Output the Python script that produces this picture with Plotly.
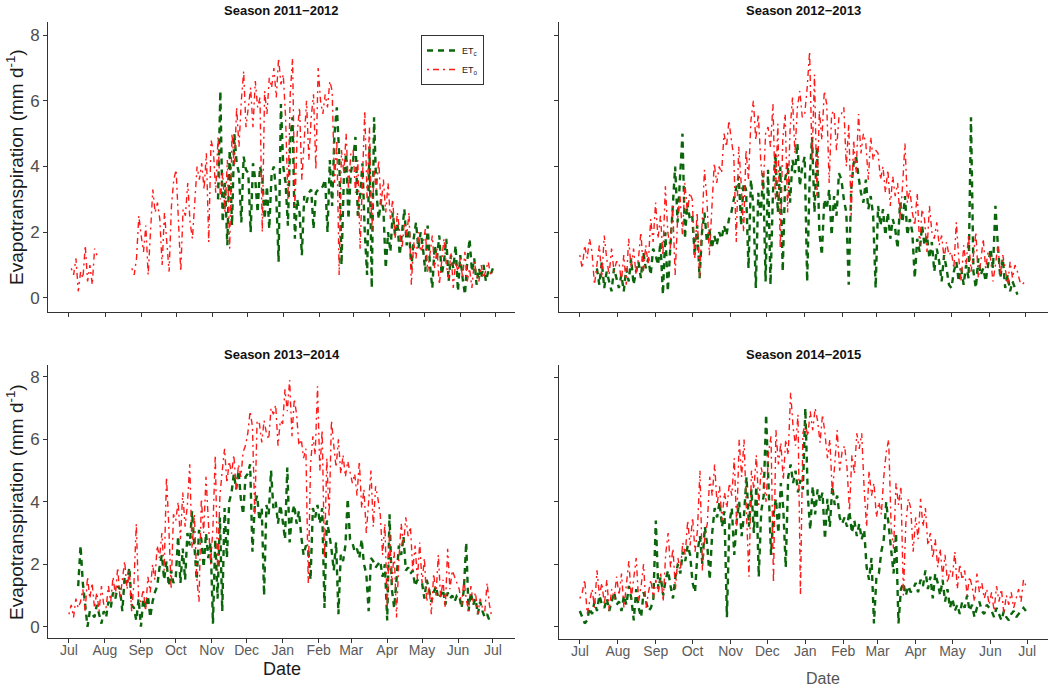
import pandas as pd
import plotly.graph_objects as go

W, H = 1058, 688

# ---------------- data (2-day samples, Jul -> Jun) ----------------
season_labels = ["Season 2011\u22122012", "Season 2012\u22122013",
                 "Season 2013\u22122014", "Season 2014\u22122015"]
season_starts = ["2011-07-01", "2012-07-01", "2013-07-01", "2014-07-01"]

eto_1112 = ([None, 0.9, 0.7, 1.2, 0.2, 0.8, 0.6, 1.6, 0.5, 1.0, 0.4, 1.5, 1.3, None, None, None]
            + [None, None, None, None, None, None, None, None, None, None, None, 0.9, 0.7, 1.2, 2.5]
            + [1.9, 1.4, 2.2, 0.7, 2.0, 3.3, 2.6, 2.9, 2.4, 1.0, 2.6, 1.7, 0.8, 2.8, 3.6]
            + [3.9, 2.2, 0.8, 2.7, 2.5, 3.5, 2.3, 1.8, 3.0, 4.0, 3.6, 4.1, 3.3, 4.4, 1.7, 4.8]
            + [4.5, 3.2, 4.9, 3.0, 3.8, 2.6, 4.2, 1.5, 5.0, 4.0, 5.8, 4.6, 6.0, 6.9, 5.2]
            + [5.9, 6.4, 5.2, 6.6, 5.8, 6.1, 2.0, 6.3, 5.6, 6.7, 6.4, 7.0, 6.1, 7.3, 6.5]
            + [6.8, 5.5, 3.0, 6.2, 7.3, 2.8, 5.0, 5.8, 3.6, 4.8, 6.0, 4.2, 5.5, 6.2, 3.9, 7.0]
            + [6.0, 5.6, 6.2, 5.8, 6.6, 6.3, 3.5, 4.8, 0.7, 4.5, 3.8, 5.0, 3.3, 4.4]
            + [4.5, 3.2, 4.2, 1.5, 3.8, 5.7, 3.0, 5.2, 2.0, 3.9, 3.3, 4.2, 2.8, 3.6, 2.6]
            + [3.5, 2.4, 3.0, 1.8, 2.6, 2.0, 1.5, 2.3, 1.9, 2.6, 0.4, 1.7, 1.2, 2.0, 1.4]
            + [1.6, 2.1, 0.8, 1.4, 1.9, 0.9, 1.5, 0.4, 1.2, 1.8, 1.0, 0.6, 1.4, 0.3, 1.1, 0.8]
            + [1.2, 0.6, 1.4, 0.5, 0.9, 0.3, 1.1, 0.7, 0.5, 1.0, 0.6, 0.9, 1.1, 0.7, 0.8])

etc_1112 = ([None] * 16 + [None] * 15 + [None] * 15 + [None] * 16
            + [None, None, 3.0, 6.3, 2.3, 3.5, 1.6, 4.5, 2.2, 5.0, 4.1, 3.8, 2.3, 4.3, 3.9]
            + [3.8, 2.0, 4.1, 3.6, 2.6, 4.0, 3.7, 2.4, 3.4, 2.1, 3.8, 4.0, 3.1, 1.1, 5.9]
            + [4.0, 3.5, 2.2, 4.8, 5.5, 1.8, 3.0, 2.6, 1.3, 3.1, 2.9, 3.2, 3.3, 2.1, 3.2, 3.3]
            + [3.3, 3.4, 3.6, 2.0, 4.2, 2.8, 5.0, 5.8, 4.4, 1.0, 3.6, 4.4, 2.4, 3.8]
            + [4.2, 4.9, 2.5, 3.1, 4.1, 2.0, 0.7, 4.6, 0.3, 5.5, 3.2, 2.4, 3.0, 2.7, 0.9]
            + [2.0, 1.4, 2.6, 1.9, 2.3, 1.3, 2.0, 2.7, 1.6, 2.1, 0.9, 1.8, 2.3, 1.5, 2.0]
            + [1.5, 0.8, 2.2, 1.0, 0.3, 1.6, 1.2, 1.9, 0.7, 1.1, 1.8, 0.5, 1.3, 0.9, 1.6, 0.2]
            + [1.3, 0.6, 0.1, 1.1, 1.8, 0.8, 1.2, 0.4, 0.9, 0.6, 1.0, 0.5, 0.8, 0.7, 0.9])

eto_1213 = ([1.3, 0.9, 1.6, 1.2, 1.8, 1.4, 0.4, 1.0, 1.6, 0.6, 1.9, 1.2, 0.7, 1.5, 0.8, 1.1]
            + [1.1, 0.5, 1.3, 0.4, 1.8, 0.9, 1.5, 0.7, 1.2, 2.0, 0.8, 1.6, 1.0, 2.4, 1.7]
            + [2.9, 1.8, 2.5, 1.3, 3.4, 2.0, 1.5, 2.8, 0.7, 2.4, 3.1, 1.9, 3.5, 2.6, 3.2]
            + [3.0, 1.2, 2.6, 0.6, 2.2, 3.9, 3.0, 1.3, 2.7, 4.1, 3.5, 4.0, 3.8, 5.0, 4.6, 5.4]
            + [4.8, 4.3, 1.7, 4.6, 3.5, 2.0, 4.5, 3.6, 5.4, 6.0, 4.8, 5.6, 4.2, 3.3, 5.0]
            + [5.2, 4.6, 5.9, 3.0, 5.3, 1.5, 4.8, 5.6, 2.6, 5.1, 6.1, 4.4, 5.8, 6.3, 5.5]
            + [5.6, 6.4, 7.5, 4.2, 6.8, 3.1, 5.7, 4.8, 6.3, 5.9, 3.5, 5.6, 5.7, 4.5, 5.5, 5.6]
            + [5.8, 4.0, 5.3, 2.5, 4.8, 3.8, 5.6, 4.4, 5.0, 4.7, 3.6, 4.9, 4.2, 4.5]
            + [4.4, 3.6, 4.0, 3.2, 3.9, 2.8, 3.7, 3.1, 3.5, 2.4, 3.4, 4.7, 2.9, 3.3, 2.6]
            + [2.2, 3.2, 1.6, 2.7, 2.4, 1.4, 2.8, 2.0, 1.8, 2.3, 1.6, 1.9, 1.2, 1.7, 1.3]
            + [1.4, 0.9, 2.3, 1.2, 0.5, 1.6, 1.0, 1.9, 0.8, 1.3, 2.0, 0.6, 1.1, 1.8, 0.9, 1.4]
            + [1.2, 0.5, 1.0, 1.6, 0.7, 1.3, 0.9, 0.4, 1.1, 0.6, 1.0, 0.8, 0.5, 0.4, 0.5])

etc_1213 = ([None, None, None, None, None, None, None, 0.9, 0.4, 1.1, 0.3, 0.8, 0.5, 0.2, 0.9, 0.6]
            + [0.3, 0.7, 0.2, 0.9, 0.5, 1.2, 0.4, 0.8, 1.1, 0.6, 1.4, 0.9, 1.2, 0.7, 1.5]
            + [1.3, 1.0, 1.7, 0.1, 2.0, 0.2, 1.5, 2.8, 4.0, 2.3, 3.5, 5.0, 1.8, 2.9, 2.4]
            + [2.5, 1.3, 2.2, 0.6, 2.0, 2.6, 1.7, 2.1, 1.5, 1.9, 1.6, 2.0, 1.8, 2.2, 1.9, 2.4]
            + [2.6, 3.0, 3.4, 3.7, 2.2, 3.5, 3.3, 0.9, 3.6, 2.8, 0.3, 3.2, 2.5, 3.8, 0.5]
            + [3.9, 0.4, 3.2, 4.4, 2.6, 4.0, 0.8, 3.6, 4.1, 2.9, 4.2, 3.8, 4.7, 3.4, 4.0]
            + [4.3, 0.5, 3.6, 4.9, 2.6, 4.6, 2.0, 1.3, 3.0, 2.7, 3.3, 1.9, 3.1, 2.5, 3.8, 3.6]
            + [3.0, 2.6, 0.4, 3.3, 4.1, 4.3, 3.7, 3.2, 2.9, 3.6, 2.7, 3.1, 2.5, 0.3]
            + [2.8, 2.2, 2.7, 1.9, 2.6, 1.8, 2.4, 2.1, 1.5, 2.9, 2.3, 3.1, 1.9, 2.4, 2.0]
            + [0.6, 1.8, 1.4, 2.2, 1.6, 1.9, 1.2, 1.7, 0.8, 1.5, 1.1, 0.5, 1.3, 0.9, 0.4]
            + [0.3, 0.8, 1.1, 0.5, 0.9, 0.4, 1.0, 0.6, 5.5, 0.8, 0.3, 1.2, 0.7, 0.9, 0.5, 1.0]
            + [1.5, 0.9, 2.8, 1.6, 0.6, 1.2, 0.3, 0.7, 0.2, 0.5, 0.3, 0.1, None, None, None])

eto_1314 = ([0.4, 0.7, 0.3, 0.9, 0.6, 0.8, 1.2, 0.5, 1.6, 0.9, 1.4, 0.6, 1.1, 0.5, 1.3, 0.7]
            + [0.6, 1.3, 0.8, 1.6, 1.0, 1.9, 0.9, 1.5, 2.1, 1.2, 1.8, 0.5, 1.4, 3.3, 0.9]
            + [0.8, 1.2, 0.5, 1.6, 1.1, 2.0, 1.5, 2.6, 2.2, 3.0, 1.8, 4.8, 3.2, 1.2, 3.6]
            + [3.4, 4.0, 2.8, 4.3, 3.2, 3.9, 5.2, 2.5, 3.6, 1.6, 0.8, 4.1, 3.0, 4.8, 3.5, 2.0]
            + [3.2, 5.5, 1.8, 4.2, 5.0, 5.7, 4.6, 5.3, 4.9, 5.5, 4.4, 5.2, 4.8, 5.6, 5.8]
            + [6.2, 6.9, 6.4, 3.6, 6.6, 6.5, 5.9, 6.6, 6.2, 6.0, 7.0, 6.8, 7.1, 5.8, 6.6]
            + [6.5, 7.6, 6.9, 7.9, 6.1, 7.3, 6.8, 5.8, 6.0, 5.4, 5.7, 1.4, 5.2, 6.1, 5.5, 7.7]
            + [5.0, 6.3, 2.2, 5.4, 3.5, 6.6, 5.8, 5.1, 6.0, 4.9, 5.5, 4.8, 5.3, 5.0]
            + [4.6, 4.9, 4.2, 5.3, 3.8, 4.4, 3.0, 4.0, 5.0, 3.2, 4.5, 4.1, 3.6, 2.3, 3.3]
            + [0.6, 3.1, 1.4, 2.4, 0.3, 2.1, 3.3, 2.6, 3.5, 2.9, 3.2, 1.8, 2.6, 1.5, 2.7]
            + [1.4, 2.2, 0.8, 1.3, 0.4, 1.7, 1.0, 2.3, 0.9, 1.5, 0.6, 2.5, 1.2, 1.8, 1.6, 1.4]
            + [1.2, 0.7, 1.5, 0.9, 0.5, 1.3, 0.8, 1.1, 0.4, 0.9, 0.6, 0.5, 1.4, 0.7, 0.3])

etc_1314 = ([None, None, None, None, 1.3, 2.6, 1.4, 0.6, 0.0, 0.5, 0.4, 0.3, 0.7, 0.4, 0.1, 0.5]
            + [0.3, 0.8, 0.6, 1.1, 0.9, 1.3, 1.2, 0.5, 1.6, 1.4, 1.9, 0.7, 0.6, 0.2, 0.9]
            + [0.0, 0.9, 0.6, 1.0, 0.3, 0.8, 1.1, 1.3, 1.9, 2.3, 1.5, 2.1, 1.3, 1.8, 1.4]
            + [1.6, 2.9, 1.4, 2.5, 1.5, 3.0, 2.6, 3.7, 2.4, 1.5, 3.1, 2.8, 1.9, 3.0, 2.2, 2.7]
            + [0.1, 2.8, 0.9, 3.5, 0.5, 3.8, 2.2, 4.0, 4.3, 4.9, 4.4, 5.0, 4.1, 3.6, 4.8]
            + [4.9, 5.2, 2.4, 3.9, 4.2, 3.4, 3.8, 1.0, 3.9, 3.6, 5.0, 3.8, 4.0, 3.3, 3.9]
            + [3.4, 2.8, 5.1, 2.7, 3.6, 3.9, 3.3, 3.7, 2.9, 2.3, 2.6, 2.5, 1.5, 3.8, 3.5, 3.9]
            + [3.3, 3.8, 0.6, 3.4, 3.0, 2.5, 1.8, 2.7, 0.4, 2.3, 2.1, 2.6, 4.1, 2.8]
            + [2.7, 2.4, 2.5, 2.2, 2.8, 2.0, 1.7, 0.5, 2.2, 2.1, 1.9, 2.0, 2.1, 1.6, 2.0]
            + [0.2, 3.6, 1.2, 0.6, 1.5, 2.6, 2.3, 2.9, 1.8, 1.9, 1.7, 1.8, 1.3, 1.5, 1.4]
            + [1.4, 0.9, 1.5, 1.2, 0.8, 1.1, 1.3, 0.9, 1.0, 1.2, 0.7, 1.1, 0.9, 1.0, 0.8, 1.0]
            + [1.0, 0.6, 1.2, 2.7, 0.5, 1.1, 0.7, 0.9, 0.4, 0.8, 0.5, 0.3, 0.4, 0.2, 0.3])

eto_1415 = ([0.9, 1.1, 1.5, 0.4, 0.8, 1.2, 0.6, 1.8, 1.0, 1.4, 0.7, 1.5, 0.5, 1.2, 0.9, 1.6]
            + [1.0, 1.7, 0.6, 1.4, 2.1, 0.9, 1.6, 2.2, 0.8, 1.3, 2.0, 0.6, 1.1, 1.5, 0.9]
            + [1.5, 1.1, 1.7, 0.8, 2.3, 3.0, 1.9, 2.5, 1.2, 2.2, 1.8, 2.7, 2.3, 3.4, 2.6]
            + [3.5, 2.4, 3.1, 5.0, 1.8, 2.9, 3.3, 4.8, 4.2, 5.2, 3.9, 4.5, 3.4, 4.3, 3.8, 4.6]
            + [4.2, 5.4, 3.2, 6.0, 4.8, 6.0, 3.6, 1.6, 5.0, 4.4, 5.5, 3.9, 5.1, 4.7, 4.0]
            + [5.6, 6.1, 1.4, 6.3, 5.2, 5.9, 4.7, 6.0, 5.5, 7.5, 6.4, 5.8, 6.8, 1.0, 6.2]
            + [6.5, 6.1, 6.9, 6.3, 7.0, 6.6, 5.9, 6.8, 6.2, 5.4, 6.0, 4.3, 5.2, 6.3, 5.0, 5.6]
            + [5.8, 5.1, 3.7, 5.5, 4.9, 6.2, 5.7, 6.2, 4.4, 3.2, 5.0, 4.2, 4.6, 3.5]
            + [4.0, 3.6, 4.8, 5.6, 6.0, 3.2, 2.5, 4.6, 3.9, 4.5, 1.0, 3.3, 4.1, 3.8, 2.4]
            + [3.5, 2.8, 4.1, 3.2, 3.8, 2.6, 3.0, 2.2, 2.8, 1.9, 2.5, 1.6, 2.3, 1.4, 1.8]
            + [1.6, 2.4, 1.2, 2.0, 1.5, 1.8, 1.0, 1.6, 1.3, 0.8, 1.7, 1.1, 1.4, 0.9, 1.2, 0.7]
            + [1.1, 0.5, 1.3, 0.8, 1.2, 0.4, 1.0, 0.7, 1.1, 0.6, 0.9, 1.2, 0.8, 1.5, 1.3])

etc_1415 = ([0.5, 0.3, 0.1, 0.2, 0.6, 0.4, 0.8, 0.5, 1.0, 0.7, 0.6, 0.9, 0.5, 0.8, 1.1, 0.7]
            + [0.8, 0.5, 1.0, 0.7, 1.3, 0.9, 0.2, 1.2, 0.6, 0.3, 1.1, 0.8, 0.5, 0.6, 0.9]
            + [3.4, 1.2, 1.6, 1.0, 1.5, 1.8, 1.3, 0.9, 1.6, 2.0, 1.7, 2.4, 2.1, 2.6, 2.3]
            + [1.4, 1.1, 2.4, 2.9, 2.0, 3.2, 2.6, 1.5, 3.0, 3.8, 3.5, 4.0, 3.2, 3.7, 0.3, 3.3]
            + [3.8, 2.3, 3.4, 4.0, 2.9, 3.6, 4.8, 3.2, 4.4, 3.0, 4.5, 1.6, 3.7, 4.2, 6.8]
            + [4.5, 2.3, 3.6, 4.1, 3.0, 4.6, 3.8, 1.9, 4.8, 5.2, 4.6, 5.0, 4.3, 4.7, 4.4]
            + [7.0, 4.2, 3.1, 4.5, 3.6, 4.4, 4.0, 4.3, 2.8, 4.1, 3.2, 4.5, 3.9, 4.2, 3.5, 3.3]
            + [3.5, 3.2, 3.7, 3.0, 3.4, 2.9, 3.3, 2.8, 3.1, 1.9, 1.5, 2.2, 0.1, 1.6]
            + [1.7, 2.4, 2.8, 4.0, 3.2, 2.6, 1.7, 3.0, 0.1, 1.2, 1.4, 1.0, 1.3, 1.1, 1.2]
            + [1.4, 1.1, 1.5, 1.3, 1.8, 1.2, 1.6, 0.9, 1.7, 1.4, 1.0, 1.5, 0.8, 1.2, 0.6]
            + [0.9, 0.5, 0.7, 0.4, 0.8, 0.6, 1.0, 0.5, 0.7, 0.3, 0.6, 0.8, 0.5, 0.4, 0.7, 0.6]
            + [0.5, 0.3, 0.6, 0.4, 0.2, 0.5, 0.3, 0.2, 0.4, 0.5, 0.3, 0.4, 0.5, 0.6, 0.5])

etc_series = [etc_1112, etc_1213, etc_1314, etc_1415]
eto_series = [eto_1112, eto_1213, eto_1314, eto_1415]
y_ticks = [0, 2, 4, 6, 8]

# ---------------- layout geometry (pixels) ----------------
panels = [
    dict(x0=48, x1=515, top=22, bottom=312, yr=[-0.43, 8.40], xr=["2011-06-13", "2012-07-18"]),
    dict(x0=559, x1=1048, top=22, bottom=312, yr=[-0.43, 8.40], xr=["2012-06-14", "2013-07-19"]),
    dict(x0=48, x1=515, top=365, bottom=638, yr=[-0.36, 8.38], xr=["2013-06-13", "2014-07-20"]),
    dict(x0=559, x1=1048, top=365, bottom=639, yr=[-0.40, 8.39], xr=["2014-06-14", "2015-07-18"]),
]

GREEN = "#0b650b"
RED = "#ff1a1a"
FONT = "Liberation Sans, Arial, sans-serif"

fig = go.Figure()
for i in range(4):
    sfx = "" if i == 0 else str(i + 1)
    dates_c = pd.date_range(season_starts[i], periods=len(etc_series[i]), freq="2D")
    dates_o = pd.date_range(season_starts[i], periods=len(eto_series[i]), freq="2D")
    fig.add_trace(go.Scatter(
        x=dates_c, y=etc_series[i], mode="lines", name="ET<sub>c</sub>",
        line=dict(color=GREEN, width=2.4, dash="6px,5px"),
        xaxis="x" + sfx, yaxis="y" + sfx, showlegend=(i == 0), legendgroup="etc"))
    fig.add_trace(go.Scatter(
        x=dates_o, y=eto_series[i], mode="lines", name="ET<sub>o</sub>",
        line=dict(color=RED, width=1.4, dash="2px,4px,6px,4px"),
        xaxis="x" + sfx, yaxis="y" + sfx, showlegend=(i == 0), legendgroup="eto"))

layout = dict(
    width=W, height=H, autosize=False,
    margin=dict(l=0, r=0, t=0, b=0),
    paper_bgcolor="white", plot_bgcolor="white",
    font=dict(family=FONT, color="#222"),
    legend=dict(x=421 / W, y=1 - 35 / H, xanchor="left", yanchor="top",
                bgcolor="white", bordercolor="#333", borderwidth=1,
                font=dict(size=9, color="#222"), itemwidth=30, tracegroupgap=0),
    annotations=[],
)

for i, p in enumerate(panels):
    sfx = "" if i == 0 else str(i + 1)
    layout["xaxis" + sfx] = dict(
        domain=[p["x0"] / W, p["x1"] / W], anchor="y" + sfx, type="date",
        range=p["xr"], tick0=season_starts[i], dtick="M1", tickformat="%b",
        showticklabels=(i >= 2), ticks="outside", ticklen=4, tickcolor="#333",
        ticklabelstandoff=-5,
        showline=True, linecolor="#333", linewidth=1, showgrid=False, zeroline=False,
        tickfont=dict(size=14, color="#5a5a5a"))
    layout["yaxis" + sfx] = dict(
        domain=[1 - p["bottom"] / H, 1 - p["top"] / H], anchor="x" + sfx,
        range=p["yr"], tickvals=y_ticks, showticklabels=(i % 2 == 0),
        ticks="outside", ticklen=4, tickcolor="#333",
        showline=True, linecolor="#333", linewidth=1, showgrid=False, zeroline=False,
        tickfont=dict(size=17, color="#4d4d4d"))
    cx = (p["x0"] + p["x1"]) / 2
    ty = 10 if i < 2 else 354
    layout["annotations"].append(dict(
        text="<b>" + season_labels[i] + "</b>", x=cx / W, y=1 - ty / H,
        xref="paper", yref="paper", showarrow=False, xanchor="center", yanchor="middle",
        font=dict(size=13, color="#111")))

ytitle = "Evapotranspiration (mm d<sup>-1</sup>)"
for cy in (167, 502):
    layout["annotations"].append(dict(
        text=ytitle, x=15 / W, y=1 - cy / H, xref="paper", yref="paper",
        textangle=-90, showarrow=False, xanchor="center", yanchor="middle",
        font=dict(size=19, color="#1a1a1a")))
layout["annotations"].append(dict(
    text="Date", x=282 / W, y=1 - 669 / H, xref="paper", yref="paper",
    showarrow=False, xanchor="center", yanchor="middle",
    font=dict(size=18, color="#1a1a1a")))
layout["annotations"].append(dict(
    text="Date", x=823 / W, y=1 - 678 / H, xref="paper", yref="paper",
    showarrow=False, xanchor="center", yanchor="middle",
    font=dict(size=16, color="#555555")))

fig.update_layout(**layout)
fig.write_html("out.html")
